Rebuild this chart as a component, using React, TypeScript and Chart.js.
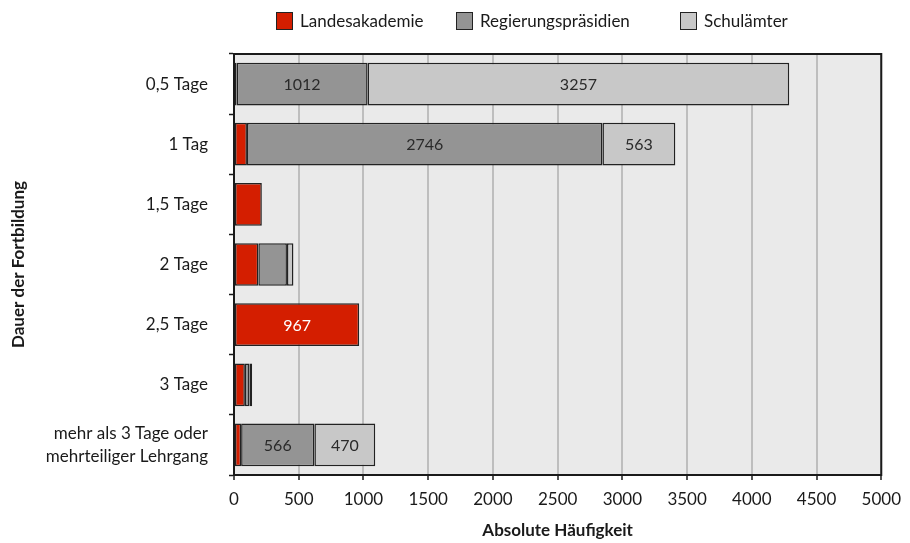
import React, { useEffect, useRef } from "react";
import { Chart, registerables } from "chart.js";

Chart.register(...registerables);

const categories: (string | string[])[] = [
  "0,5 Tage",
  "1 Tag",
  "1,5 Tage",
  "2 Tage",
  "2,5 Tage",
  "3 Tage",
  ["mehr als 3 Tage oder", "mehrteiliger Lehrgang"],
];
const landesakademie = [20, 100, 215, 188, 967, 84, 55];
const regierungspraesidien = [1012, 2746, 0, 221, 0, 36, 566];
const schulaemter = [3257, 563, 0, 50, 0, 20, 470];
const seriesNames = ["Landesakademie", "Regierungspräsidien", "Schulämter"];
const seriesColors = ["#D41E00", "#949494", "#C8C8C8"];
const labelColors = ["#FFFFFF", "#2A2A2A", "#2A2A2A"];
const xTicks = [0, 500, 1000, 1500, 2000, 2500, 3000, 3500, 4000, 4500, 5000];
const labelThreshold = 400;

const FONT = "Lato, 'Open Sans', sans-serif";
const LEGEND_LEFTS = [276, 456, 680];

const bgPlugin = {
  id: "plotBg",
  beforeDraw(chart: any) {
    const { ctx, chartArea: a } = chart;
    ctx.save();
    ctx.fillStyle = "#EAEAEA";
    ctx.fillRect(a.left, a.top, a.right - a.left, a.bottom - a.top);
    ctx.restore();
  },
  afterDraw(chart: any) {
    const { ctx, chartArea: a } = chart;
    ctx.save();
    ctx.strokeStyle = "#1A1A1A";
    ctx.lineWidth = 2;
    ctx.strokeRect(a.left, a.top, a.right - a.left, a.bottom - a.top);
    ctx.restore();
  },
};

const labelPlugin = {
  id: "barLabels",
  afterDatasetsDraw(chart: any) {
    const { ctx } = chart;
    ctx.save();
    ctx.font = `16px ${FONT}`;
    ctx.textAlign = "center";
    ctx.textBaseline = "middle";
    chart.data.datasets.forEach((ds: any, i: number) => {
      const meta = chart.getDatasetMeta(i);
      meta.data.forEach((el: any, j: number) => {
        const v = ds.data[j];
        if (v >= labelThreshold) {
          const cx = (el.x + el.base) / 2;
          ctx.fillStyle = labelColors[i];
          ctx.fillText(String(v), cx, el.y + 1);
        }
      });
    });
    ctx.restore();
  },
};

export default function App() {
  const ref = useRef<HTMLCanvasElement | null>(null);
  useEffect(() => {
    if (!ref.current) return;
    const values = [landesakademie, regierungspraesidien, schulaemter];
    const chart = new Chart(ref.current, {
      type: "bar",
      data: {
        labels: categories,
        datasets: seriesNames.map((name, i) => ({
          label: name,
          data: values[i],
          backgroundColor: seriesColors[i],
          borderColor: "#222222",
          borderWidth: 1.5,
          borderSkipped: false,
          barPercentage: 0.71,
          categoryPercentage: 1,
        })),
      },
      options: {
        indexAxis: "y",
        animation: false,
        responsive: false,
        layout: { padding: { top: 54, right: 19, bottom: 0, left: 0 } },
        plugins: {
          legend: { display: false },
          tooltip: { enabled: false },
        },
        scales: {
          x: {
            stacked: true,
            min: 0,
            max: 5000,
            afterBuildTicks: (s: any) => {
              s.ticks = xTicks.map((v) => ({ value: v }));
            },
            afterFit: (s: any) => {
              s.height = 68;
            },
            ticks: {
              color: "#1A1A1A",
              font: { family: FONT, size: 17 },
              padding: 9,
              maxRotation: 0,
              callback: (v: any) => String(v),
            },
            grid: {
              color: "#BEBEBE",
              lineWidth: 2,
              tickColor: "#1A1A1A",
              tickLength: 5,
              tickWidth: 1.5,
            },
            border: { color: "#1A1A1A", width: 2 },
            title: {
              display: true,
              text: "Absolute Häufigkeit",
              color: "#1A1A1A",
              font: { family: FONT, size: 17, weight: "bold" },
              padding: { top: 0, bottom: 2 },
            },
          },
          y: {
            stacked: true,
            afterFit: (s: any) => {
              s.width = 234;
            },
            ticks: {
              color: "#1A1A1A",
              font: { family: FONT, size: 17, lineHeight: 1.35 },
              padding: 21,
            },
            grid: {
              drawOnChartArea: false,
              offset: true,
              tickColor: "#1A1A1A",
              tickLength: 5,
              tickWidth: 1.5,
            },
            border: { color: "#1A1A1A", width: 2 },
            title: {
              display: true,
              text: "Dauer der Fortbildung",
              color: "#1A1A1A",
              font: { family: FONT, size: 17, weight: "bold" },
              padding: { top: 8, bottom: 0 },
            },
          },
        },
      },
      plugins: [bgPlugin, labelPlugin],
    });
    return () => chart.destroy();
  }, []);

  return (
    <div
      style={{
        position: "fixed",
        left: 0,
        top: 0,
        width: 910,
        height: 543,
        background: "#FFFFFF",
        fontFamily: FONT,
      }}
    >
      {seriesNames.map((n, i) => (
        <div
          key={n}
          style={{
            position: "absolute",
            left: LEGEND_LEFTS[i],
            top: 12,
            display: "flex",
            alignItems: "center",
            fontSize: 17,
            lineHeight: "18px",
            color: "#1A1A1A",
            whiteSpace: "nowrap",
          }}
        >
          <span
            style={{
              display: "inline-block",
              boxSizing: "border-box",
              width: 17,
              height: 18,
              background: seriesColors[i],
              border: "1.5px solid #222",
              marginRight: 7,
            }}
          />
          <span>{n}</span>
        </div>
      ))}
      <canvas ref={ref} width={910} height={543} style={{ display: "block" }} />
    </div>
  );
}
